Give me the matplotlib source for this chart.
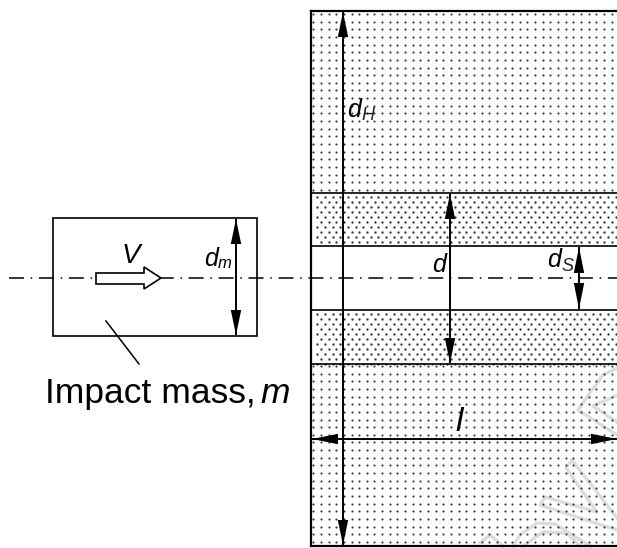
import matplotlib
matplotlib.use('Agg')
import matplotlib.pyplot as plt
import numpy as np
from matplotlib.patches import Rectangle, Polygon

plt.rcParams['font.family'] = ['Liberation Sans', 'DejaVu Sans']

# everything is in image pixels, y downwards
rock_x = [311, 617]
rock_y = [11, 546]
band_edges = [193, 246, 310, 364]
axis_y = 278
mass_box = [53, 218, 257, 336]

# faint watermark strokes
wm = [
    [(617, 368), (603, 375), (590, 393), (578, 410), (617, 435)],
    [(617, 395), (593, 406), (617, 422)],
    [(572, 460), (566, 468), (597, 512), (545, 497), (540, 505), (617, 530)],
    [(572, 460), (617, 518)],
    [(513, 546), (520, 535), (537, 523), (555, 524), (590, 546)],
    [(523, 546), (543, 532), (567, 533), (580, 546)],
    [(480, 543), (490, 535), (503, 546)],
]

def dots(ax, x0, x1, y0, y1, step_x, step_y, size, stagger=False):
    # dot texture of the rock
    rows = np.arange(y0, y1, step_y)
    for i, y in enumerate(rows):
        shift = step_x / 2 if (stagger and i % 2) else 0
        xs = np.arange(x0 + shift, x1, step_x)
        ax.scatter(xs, np.full(len(xs), y), s=size, color='#333333', linewidths=0, zorder=1)

def dim_arrow(ax, x0, y0, x1, y1, w=5.2, l=24):
    ax.plot([x0, x1], [y0, y1], color='black', lw=1.4, zorder=4, solid_capstyle='butt')
    d = np.array([x1 - x0, y1 - y0], float)
    d /= np.hypot(*d)
    n = np.array([-d[1], d[0]])
    p1 = np.array([x1, y1])
    p0 = np.array([x0, y0])
    ax.add_patch(Polygon([p1, p1 - d * l + n * w, p1 - d * l - n * w], color='black', lw=0, zorder=5))
    ax.add_patch(Polygon([p0, p0 + d * l + n * w, p0 + d * l - n * w], color='black', lw=0, zorder=5))

fig = plt.figure(figsize=(6.17, 5.48), dpi=100)
ax = fig.add_axes([0, 0, 1, 1])
ax.set_xlim(0, 617)
ax.set_ylim(548, 0)
ax.axis('off')

for seg in wm:
    xs, ys = zip(*seg)
    ax.plot(xs, ys, color='#dcdcdc', lw=2.4, zorder=0)

# rock with boreholes
dots(ax, rock_x[0] + 2.3, rock_x[1], rock_y[0] + 3, band_edges[0], 7.65, 7.65, 2.3)
dots(ax, rock_x[0] + 2.3, rock_x[1], band_edges[3] + 2, rock_y[1], 7.65, 7.65, 2.3)
dots(ax, rock_x[0] + 6.3, rock_x[1], band_edges[0] + 3.7, band_edges[1], 7.65, 5.0, 2.8, stagger=True)
dots(ax, rock_x[0] + 6.3, rock_x[1], band_edges[2] + 3.7, band_edges[3], 7.65, 5.0, 2.8, stagger=True)

for y in band_edges:
    ax.plot(rock_x, [y, y], color='black', lw=1.2, zorder=3)
ax.plot([rock_x[0], rock_x[0]], rock_y, color='black', lw=1.6, zorder=3)
ax.plot(rock_x, [rock_y[0], rock_y[0]], color='black', lw=1.6, zorder=3)
ax.plot(rock_x, [rock_y[1], rock_y[1]], color='black', lw=1.6, zorder=3)

# impact mass
ax.add_patch(Rectangle((mass_box[0], mass_box[1]), mass_box[2] - mass_box[0], mass_box[3] - mass_box[1],
                       fill=False, ec='black', lw=1.2, zorder=3))
ax.plot([106, 139], [321, 364], color='black', lw=1.1, zorder=3)

# centre line
ax.plot([9, 617], [axis_y, axis_y], color='black', lw=1.1, zorder=2,
        dashes=(9.8, 4.4, 1, 4.4))

# velocity arrow
ax.add_patch(Polygon([(96, 273), (144, 273), (144, 267), (161, 278), (144, 289), (144, 284), (96, 284)],
                     fc='white', ec='black', lw=1.2, zorder=4))

# dimensions
dim_arrow(ax, 343, 12, 343, 545, l=25)
dim_arrow(ax, 312, 439, 617, 439, l=26)
dim_arrow(ax, 450, 194, 450, 363, l=25)
dim_arrow(ax, 579, 247, 579, 309, l=26)
dim_arrow(ax, 236, 219, 236, 335, l=25)

fs = 18
sub = 13
ax.text(347, 117, 'd', style='italic', fontsize=fs, zorder=6)
ax.text(361, 120, 'H', style='italic', fontsize=sub, zorder=6, color='#222222')
ax.text(432, 272, 'd', style='italic', fontsize=fs, zorder=6)
ax.text(547, 267, 'd', style='italic', fontsize=fs, zorder=6)
ax.text(561, 271, 'S', style='italic', fontsize=sub, zorder=6, color='#222222')
ax.text(204, 266, 'd', style='italic', fontsize=fs, zorder=6)
ax.text(218, 268, 'm', style='italic', fontsize=12, zorder=6)
ax.text(122, 263, 'V', style='italic', fontsize=20, zorder=6)
ax.text(455, 431, 'l', style='italic', fontsize=24, zorder=6)
ax.text(45, 403, 'Impact mass,', fontsize=25.5, zorder=6)
ax.text(260, 403, 'm', style='italic', fontsize=25.5, zorder=6)

plt.savefig('out.png', dpi=100)
plt.close()
